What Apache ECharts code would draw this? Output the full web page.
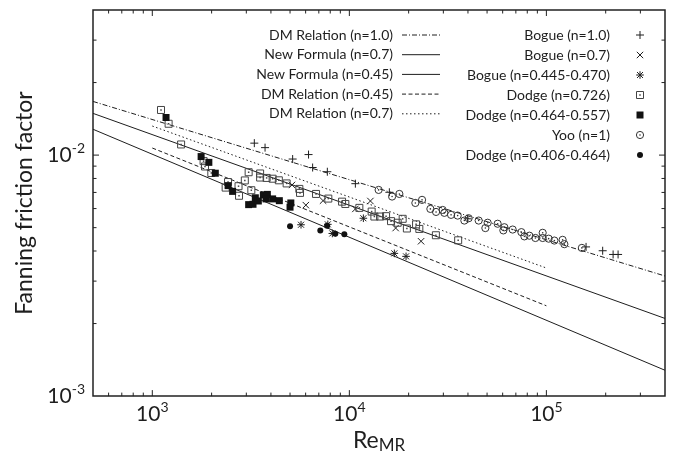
<!DOCTYPE html>
<html><head><meta charset="utf-8">
<script src="https://cdn.jsdelivr.net/npm/echarts@6/dist/echarts.min.js"></script>
<style>html,body{margin:0;padding:0;background:#fff}#c{width:684px;height:459px}</style>
</head><body><div id="c"></div>
<script>
// ---------- axes ----------
const xMin = 500, xMax = 400000, yMin = 0.001, yMax = 0.04;
const xMajorTicks = [1000, 10000, 100000];
const xMinorTicks = [600, 700, 800, 900, 2000, 3000, 4000, 5000, 6000, 7000, 8000, 9000,
  20000, 30000, 40000, 50000, 60000, 70000, 80000, 90000, 200000, 300000];
const yMajorTicks = [0.01];
const yMinorTicks = [0.002, 0.003, 0.004, 0.005, 0.006, 0.007, 0.008, 0.009, 0.02, 0.03];

// ---------- correlation lines ----------
const dmRelation10 = [[500, 0.0167], [400000, 0.00315]];
const newFormula07 = [[500, 0.0149], [400000, 0.0021]];
const newFormula045 = [[500, 0.0128], [400000, 0.00128]];
const dmRelation045 = [[1000, 0.0107], [100000, 0.00237]];
const dmRelation07 = [[1000, 0.0132], [100000, 0.0034]];

// ---------- experimental data ----------
const bogue10 = [[3294, 0.01121], [3734, 0.01074], [5155, 0.00963], [6207, 0.01005], [6512, 0.00888],
  [7732, 0.00853], [10730, 0.00761], [15960, 0.00701], [39860, 0.00544], [159000, 0.00416],
  [193100, 0.00401], [218100, 0.00387], [231200, 0.00387]];
const bogue07 = [[5118, 0.00752], [6015, 0.00620], [7355, 0.00647], [10730, 0.00598], [12790, 0.00645],
  [17180, 0.00498], [23120, 0.00439]];
const bogue045 = [[5685, 0.00514], [7777, 0.00516], [8197, 0.00473], [11780, 0.00547], [16920, 0.00391],
  [19400, 0.00380]];
const dodge0726 = [[1107, 0.01539], [1210, 0.01349], [1400, 0.01107], [1821, 0.00944], [1851, 0.00897],
  [1993, 0.00843], [2423, 0.00773], [2356, 0.00733], [2739, 0.00743], [2755, 0.00678], [2948, 0.00785],
  [3181, 0.00715], [3083, 0.00849], [3525, 0.00839], [3525, 0.00807], [3804, 0.00804], [4080, 0.00798],
  [4387, 0.00786], [4805, 0.00763], [5575, 0.00724], [5619, 0.00697], [6776, 0.00690], [7822, 0.00660],
  [9183, 0.00641], [9543, 0.00627], [11240, 0.00604], [12980, 0.00583], [13400, 0.00556], [14320, 0.00556],
  [15360, 0.00558], [16280, 0.00532], [17590, 0.00524], [18650, 0.00544], [19590, 0.00496], [21810, 0.00516],
  [22660, 0.00494], [27490, 0.00465], [35670, 0.00443]];
const dodge0464 = [[1174, 0.01432], [1769, 0.00986], [1936, 0.00933], [2088, 0.00841], [2425, 0.00747],
  [2556, 0.00707], [3083, 0.00623], [3244, 0.00625], [3333, 0.00665], [3452, 0.00645], [3660, 0.00684],
  [3836, 0.00687], [3778, 0.00658], [4080, 0.00658], [4412, 0.00647], [5047, 0.00633], [5000, 0.00608]];
const yoo1 = [[14080, 0.00717], [16480, 0.00673], [17940, 0.00690], [21630, 0.00633], [23390, 0.00652],
  [25780, 0.00598], [27550, 0.00581], [29760, 0.00592], [30350, 0.00576], [32830, 0.00565], [35460, 0.00561],
  [38350, 0.00535], [40320, 0.00547], [45330, 0.00535], [49020, 0.00498], [50350, 0.00524], [56570, 0.00519],
  [61200, 0.00502], [60480, 0.00487], [67440, 0.00491], [74660, 0.00479], [77320, 0.00460], [81970, 0.00463],
  [87950, 0.00453], [95780, 0.00476], [95780, 0.00453], [102700, 0.00450], [109800, 0.00442],
  [120900, 0.00445], [123400, 0.00427], [151400, 0.00412]];
const dodge0406 = [[5000, 0.00507], [7124, 0.00487], [7713, 0.00509], [8489, 0.00472], [9432, 0.00469]];

const lineNames = ['DM Relation (n=1.0)', 'New Formula (n=0.7)', 'New Formula (n=0.45)', 'DM Relation (n=0.45)', 'DM Relation (n=0.7)'];
const pointNames = ['Bogue (n=1.0)', 'Bogue (n=0.7)', 'Bogue (n=0.445-0.470)', 'Dodge (n=0.726)', 'Dodge (n=0.464-0.557)', 'Yoo (n=1)', 'Dodge (n=0.406-0.464)'];

// ---------- styling ----------
const INK = '#1e1e1e';
const FONT = 'Lato';
const lineDashes = [[5, 2, 1, 2], 'solid', 'solid', [4, 2.5], [1.5, 2.5]];
const lineSets = [dmRelation10, newFormula07, newFormula045, dmRelation045, dmRelation07];
const pointSets = [bogue10, bogue07, bogue045, dodge0726, dodge0464, yoo1, dodge0406];
const pointKinds = ['plus', 'cross', 'star', 'dotSquare', 'square', 'dotCircle', 'dot'];

function L(x1, y1, x2, y2, c) {
  return { type: 'line', shape: { x1, y1, x2, y2 }, style: { stroke: c || INK, lineWidth: 1 } };
}
function markerShapes(kind, cx, cy) {
  switch (kind) {
    case 'plus': { const h = 4; return [L(cx - h, cy, cx + h, cy), L(cx, cy - h, cx, cy + h)]; }
    case 'cross': { const h = 3.2; return [L(cx - h, cy - h, cx + h, cy + h), L(cx - h, cy + h, cx + h, cy - h)]; }
    case 'star': { const h = 3.8, d = 3; return [L(cx - h, cy, cx + h, cy), L(cx, cy - h, cx, cy + h), L(cx - d, cy - d, cx + d, cy + d), L(cx - d, cy + d, cx + d, cy - d)]; }
    case 'dotSquare': { const h = 3.5; return [
      { type: 'rect', shape: { x: cx - h, y: cy - h, width: 2 * h, height: 2 * h }, style: { fill: 'none', stroke: '#444', lineWidth: 1 } },
      { type: 'rect', shape: { x: cx - 0.75, y: cy - 0.75, width: 1.5, height: 1.5 }, style: { fill: '#444' } }]; }
    case 'square': { const h = 3.5; return [{ type: 'rect', shape: { x: cx - h, y: cy - h, width: 2 * h, height: 2 * h }, style: { fill: '#111' } }]; }
    case 'dotCircle': return [
      { type: 'circle', shape: { cx, cy, r: 3.6 }, style: { fill: 'none', stroke: '#333', lineWidth: 1 } },
      { type: 'circle', shape: { cx, cy, r: 0.8 }, style: { fill: '#333' } }];
    case 'dot': return [{ type: 'circle', shape: { cx, cy, r: 3 }, style: { fill: '#111' } }];
  }
  return [];
}

function powLabel(v) {
  const lg = Math.log10(v), e = Math.round(lg);
  if (Math.abs(lg - e) > 1e-6) return '';
  return '{b|10}{s|' + e + '}';
}
const labelRich = {
  b: { fontSize: 21, lineHeight: 28, fontFamily: FONT, color: INK },
  s: { fontSize: 14, lineHeight: 12, fontFamily: FONT, color: INK, verticalAlign: 'top' }
};

const series = [];
lineSets.forEach((d, i) => {
  series.push({
    name: lineNames[i], type: 'line', data: d, symbol: 'none', silent: true,
    lineStyle: { color: INK, width: 1, type: lineDashes[i] }, z: 3
  });
});
pointSets.forEach((d, i) => {
  const kind = pointKinds[i];
  series.push({
    name: pointNames[i], type: 'custom', coordinateSystem: 'cartesian2d', data: d, z: 4,
    encode: { x: 0, y: 1 },
    renderItem: function (params, api) {
      const p = api.coord([api.value(0), api.value(1)]);
      return { type: 'group', children: markerShapes(kind, p[0], p[1]) };
    }
  });
});
// tick marks (inside, mirrored on all four sides)
const xTickData = xMajorTicks.map(v => [v, yMin, 6]).concat(xMinorTicks.map(v => [v, yMin, 3.5]));
const yTickData = yMajorTicks.map(v => [xMin, v, 6]).concat(yMinorTicks.map(v => [xMin, v, 3.5]));
series.push({
  type: 'custom', coordinateSystem: 'cartesian2d', data: xTickData, silent: true, z: 5,
  encode: { x: 0, y: 1 },
  renderItem: function (params, api) {
    const v = api.value(0), len = api.value(2);
    const b = api.coord([v, yMin]), t = api.coord([v, yMax]);
    return { type: 'group', children: [L(b[0], b[1], b[0], b[1] - len, '#222'), L(t[0], t[1], t[0], t[1] + len, '#222')] };
  }
});
series.push({
  type: 'custom', coordinateSystem: 'cartesian2d', data: yTickData, silent: true, z: 5,
  encode: { x: 0, y: 1 },
  renderItem: function (params, api) {
    const v = api.value(1), len = api.value(2);
    const l = api.coord([xMin, v]), r = api.coord([xMax, v]);
    return { type: 'group', children: [L(l[0], l[1], l[0] + len, l[1], '#222'), L(r[0], r[1], r[0] - len, r[1], '#222')] };
  }
});

// legend as graphic
const graphics = [];
const legFont = '14px ' + FONT;
lineNames.forEach((n, i) => {
  const y = 35 + i * 19.7;
  graphics.push({ type: 'text', x: 393, y: y, style: { text: n, font: legFont, fill: INK, align: 'right', verticalAlign: 'middle' } });
  graphics.push({ type: 'line', shape: { x1: 402, y1: y, x2: 440, y2: y },
    style: { stroke: INK, lineWidth: 1, lineDash: lineDashes[i] === 'solid' ? null : lineDashes[i] } });
});
pointNames.forEach((n, i) => {
  const y = 35 + i * 20;
  graphics.push({ type: 'text', x: 610, y: y, style: { text: n, font: legFont, fill: INK, align: 'right', verticalAlign: 'middle' } });
  graphics.push({ type: 'group', children: markerShapes(pointKinds[i], 640, y) });
});

const chart = echarts.init(document.getElementById('c'), null, { renderer: 'canvas' });
chart.setOption({
  animation: false,
  backgroundColor: '#fff',
  grid: { left: 93, right: 19, top: 10, bottom: 61, show: true, borderColor: '#222', borderWidth: 1.5, backgroundColor: 'transparent' },
  xAxis: {
    type: 'log', logBase: 10, min: xMin, max: xMax,
    axisLine: { show: false }, axisTick: { show: false }, splitLine: { show: false }, minorTick: { show: false },
    axisLabel: { formatter: powLabel, margin: 4, rich: labelRich, showMinLabel: true, showMaxLabel: true },
    name: '{a|Re}{b|MR}', nameLocation: 'middle', nameGap: 30,
    nameTextStyle: { rich: {
      a: { fontSize: 23, lineHeight: 26, fontFamily: FONT, color: INK },
      b: { fontSize: 17, lineHeight: 11, fontFamily: FONT, color: INK, verticalAlign: 'bottom' } } }
  },
  yAxis: {
    type: 'log', logBase: 10, min: yMin, max: yMax,
    axisLine: { show: false }, axisTick: { show: false }, splitLine: { show: false }, minorTick: { show: false },
    axisLabel: { formatter: powLabel, margin: 8, rich: labelRich },
    name: 'Fanning friction factor', nameLocation: 'middle', nameGap: 56,
    nameTextStyle: { fontSize: 23, fontFamily: FONT, color: INK }
  },
  graphic: { elements: graphics },
  series: series
});
</script>
</body></html>
